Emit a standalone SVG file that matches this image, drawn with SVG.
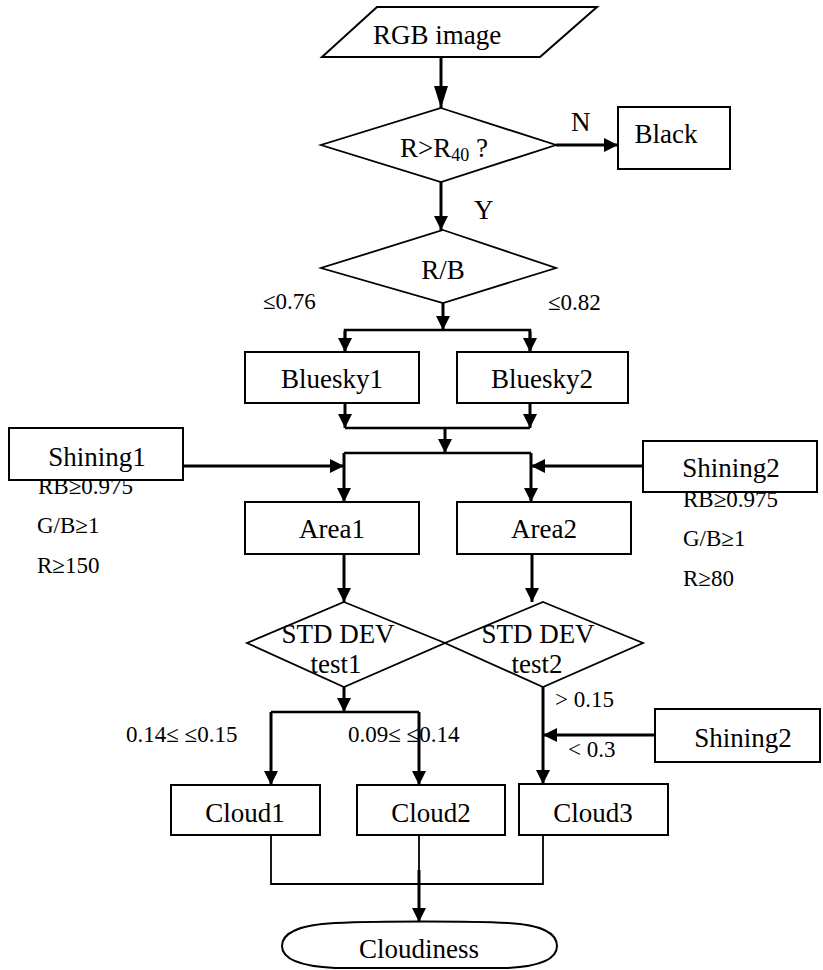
<svg xmlns="http://www.w3.org/2000/svg" width="823" height="970" viewBox="0 0 823 970">
<defs>
<marker id="ah" markerUnits="userSpaceOnUse" markerWidth="14" markerHeight="14" refX="14" refY="7" orient="auto"><path d="M0,0 L14,7 L0,14 Z" fill="#000"/></marker>
<marker id="ahL" markerUnits="userSpaceOnUse" markerWidth="22" markerHeight="14" refX="22" refY="7" orient="auto"><path d="M0,0 L22,7 L0,14 Z" fill="#000"/></marker>
</defs>
<style>
.box{fill:#fff;stroke:#000;stroke-width:2}
.dia{fill:#fff;stroke:#000;stroke-width:1.8}
text{font-family:'Liberation Serif','Times New Roman','DejaVu Serif',serif;fill:#000}
.t{font-size:27px}
.s{font-size:23px}
.c{fill:none;stroke:#000;stroke-width:3}
.a{fill:none;stroke:#000;stroke-width:3;marker-end:url(#ah)}
.thin{fill:none;stroke:#000;stroke-width:1.8}
</style>
<rect width="823" height="970" fill="#fff"/>

<g id="labels-behind">
<text class="s" x="38" y="494" font-family="Liberation Serif, serif">RB≥0.975</text>
<text class="s" x="37" y="533" font-family="Liberation Serif, serif">G/B≥1</text>
<text class="s" x="37" y="573" font-family="Liberation Serif, serif">R≥150</text>
<text class="s" x="683" y="507" font-family="Liberation Serif, serif">RB≥0.975</text>
<text class="s" x="683" y="546" font-family="Liberation Serif, serif">G/B≥1</text>
<text class="s" x="683" y="586" font-family="Liberation Serif, serif">R≥80</text>
</g>

<g id="connectors">
<line x1="441" y1="57" x2="441" y2="108" class="c" style="marker-end:url(#ahL)"/>
<line x1="556" y1="145" x2="618" y2="145" class="a"/>
<line x1="441" y1="182" x2="441" y2="230" class="a"/>
<line x1="443" y1="303" x2="443" y2="330" class="a"/>
<polyline points="345,352 345,330 530,330 530,352" class="c" style="stroke-width:2.5"/>
<line x1="345" y1="331" x2="345" y2="352" class="a"/>
<line x1="530" y1="331" x2="530" y2="352" class="a"/>
<line x1="345" y1="403" x2="345" y2="428" class="a"/>
<line x1="530" y1="403" x2="530" y2="428" class="a"/>
<line x1="345" y1="428" x2="530" y2="428" class="c" style="stroke-width:2.5"/>
<line x1="445" y1="428" x2="445" y2="453" class="a"/>
<line x1="344" y1="453" x2="531" y2="453" class="c" style="stroke-width:2.5"/>
<line x1="344" y1="453" x2="344" y2="502" class="a"/>
<line x1="531" y1="453" x2="531" y2="502" class="a"/>
<line x1="183" y1="466" x2="344" y2="466" class="a"/>
<line x1="643" y1="466" x2="531" y2="466" class="a"/>
<line x1="344" y1="554" x2="344" y2="602" class="a"/>
<line x1="532" y1="554" x2="532" y2="602" class="a"/>
<line x1="344" y1="687" x2="344" y2="712" class="a"/>
<line x1="271" y1="712" x2="419" y2="712" class="c" style="stroke-width:2.5"/>
<line x1="271" y1="712" x2="271" y2="785" class="a"/>
<line x1="419" y1="712" x2="419" y2="785" class="a"/>
<line x1="543" y1="687" x2="543" y2="784" class="a"/>
<line x1="655" y1="735" x2="543" y2="735" class="a"/>
<polyline points="271,835 271,884 543,884 543,835" class="thin"/>
<line x1="419" y1="835" x2="419" y2="872" class="thin"/>
<line x1="419" y1="870" x2="419" y2="922" class="a"/>
</g>

<g id="rgb-image">
<polygon points="377,7 597,7 540,57 322,57" class="box"/>
<text class="t" x="437" y="44" text-anchor="middle">RGB image</text>
</g>

<g id="r-gt-r40">
<polygon points="441,108 556,145 441,182 321,145" class="dia"/>
<text class="t" x="400" y="157">R&gt;R<tspan font-size="18" dy="4">40</tspan><tspan dy="-4"> ?</tspan></text>
</g>

<g id="black">
<rect x="618" y="107" width="112" height="62" class="box"/>
<text class="t" x="666" y="143" text-anchor="middle">Black</text>
</g>

<g id="edge-labels">
<text class="t" x="571" y="131">N</text>
<text class="t" x="474" y="219">Y</text>
<text class="s" x="263" y="309">≤0.76</text>
<text class="s" x="548" y="310">≤0.82</text>
<text class="s" x="555" y="707">&gt; 0.15</text>
<text class="s" x="568" y="757">&lt; 0.3</text>
<text class="s" x="126" y="742">0.14≤ ≤0.15</text>
<text class="s" x="348" y="742">0.09≤ ≤0.14</text>
</g>

<g id="rb">
<polygon points="443,230 556,268 443,303 321,268" class="dia"/>
<text class="t" x="443" y="279" text-anchor="middle">R/B</text>
</g>

<g id="bluesky1">
<rect x="245" y="352" width="174" height="51" class="box"/>
<text class="t" x="332" y="388" text-anchor="middle">Bluesky1</text>
</g>
<g id="bluesky2">
<rect x="457" y="352" width="171" height="51" class="box"/>
<text class="t" x="542" y="388" text-anchor="middle">Bluesky2</text>
</g>

<g id="shining1">
<rect x="9" y="428" width="174" height="52" class="box"/>
<text class="t" x="97" y="466" text-anchor="middle">Shining1</text>
</g>
<g id="shining2-top">
<rect x="643" y="441" width="174" height="51" class="box"/>
<text class="t" x="731" y="477" text-anchor="middle">Shining2</text>
</g>

<g id="area1">
<rect x="245" y="502" width="174" height="52" class="box"/>
<text class="t" x="332" y="538" text-anchor="middle">Area1</text>
</g>
<g id="area2">
<rect x="457" y="502" width="174" height="52" class="box"/>
<text class="t" x="544" y="538" text-anchor="middle">Area2</text>
</g>

<g id="std-dev-test1">
<polygon points="344,602 445,643 344,687 247,643" class="dia" style="fill:none"/>
<text class="t" x="338" y="643" text-anchor="middle">STD DEV</text>
<text class="t" x="336" y="673" text-anchor="middle">test1</text>
</g>
<g id="std-dev-test2">
<polygon points="543,602 643,643 543,687 445,643" class="dia" style="fill:none"/>
<text class="t" x="538" y="643" text-anchor="middle">STD DEV</text>
<text class="t" x="537" y="673" text-anchor="middle">test2</text>
</g>

<g id="shining2-bottom">
<rect x="655" y="709" width="165" height="53" class="box"/>
<text class="t" x="743" y="747" text-anchor="middle">Shining2</text>
</g>

<g id="cloud1">
<rect x="171" y="785" width="149" height="50" class="box"/>
<text class="t" x="245" y="822" text-anchor="middle">Cloud1</text>
</g>
<g id="cloud2">
<rect x="357" y="785" width="148" height="50" class="box"/>
<text class="t" x="431" y="822" text-anchor="middle">Cloud2</text>
</g>
<g id="cloud3">
<rect x="519" y="784" width="149" height="51" class="box"/>
<text class="t" x="593" y="822" text-anchor="middle">Cloud3</text>
</g>

<g id="cloudiness">
<path d="M335,923 C380,921 470,921 508,923 C545,925 557,935 557,946 C557,957 545,966 508,968 L335,968 C295,966 282,957 282,946 C282,935 295,925 335,923 Z" class="box"/>
<text class="t" x="419" y="958" text-anchor="middle">Cloudiness</text>
</g>
</svg>
